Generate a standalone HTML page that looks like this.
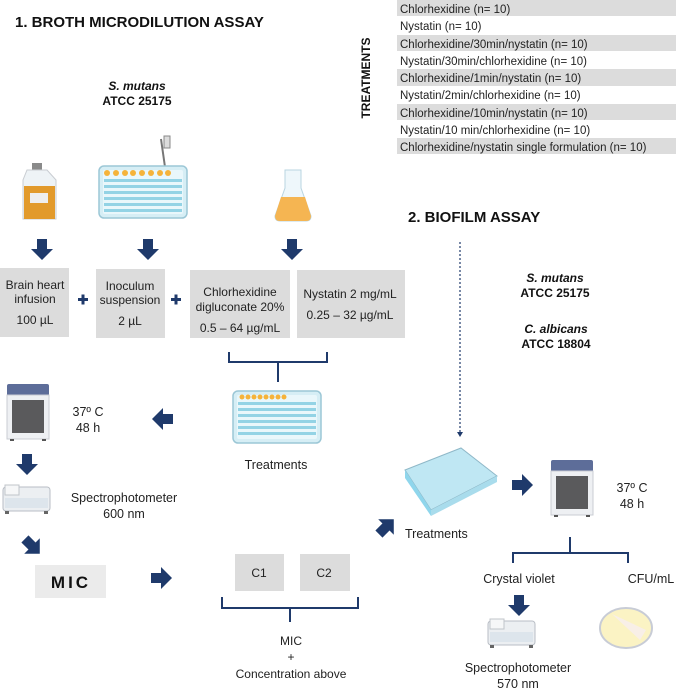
<!DOCTYPE html>
<html><head><meta charset="utf-8"><style>
html,body{margin:0;padding:0;background:#fff;}
svg{display:block;font-family:"Liberation Sans",Arial,sans-serif;}
</style></head><body>
<svg width="676" height="690" viewBox="0 0 676 690" xmlns="http://www.w3.org/2000/svg">
<defs>
<g id="ad"><path d="M-5,-10 H5 V0 H11 L0,11 L-11,0 H-5 Z" fill="#1f3a6b"/></g>
<g id="plate">
<rect x="0" y="0" width="88" height="52" rx="5" fill="#d6eef5" stroke="#9cc7d6" stroke-width="1.5"/>
<rect x="4" y="4" width="80" height="44" rx="2" fill="#e9f7fb"/>
</g>
<g id="incub">
<rect x="0" y="0" width="42" height="12" rx="2" fill="#5d6d99"/>
<rect x="0" y="11" width="42" height="44" fill="#eef0f3" stroke="#c9ccd3"/>
<rect x="5" y="16" width="32" height="33" fill="#5a5a5c"/>
<rect x="3" y="55" width="4" height="2" fill="#555"/><rect x="35" y="55" width="4" height="2" fill="#555"/>
</g>
<g id="spec">
<rect x="0" y="3" width="47" height="24" rx="3" fill="#eceff2" stroke="#b9bec5"/>
<rect x="2" y="1" width="14" height="10" fill="#f6f7f8" stroke="#c0c4ca"/>
<rect x="2" y="14" width="43" height="10" fill="#dde5ec"/>
<rect x="2" y="27" width="4" height="3" fill="#666"/><rect x="41" y="27" width="4" height="3" fill="#666"/>
</g>
</defs>

<text x="15" y="27" font-size="15" font-weight="bold" fill="#111">1. BROTH MICRODILUTION ASSAY</text>

<g font-size="11.5" fill="#222">
<rect x="397" y="0" width="279" height="16" fill="#dcdcdc"/>
<rect x="397" y="35" width="279" height="16" fill="#dcdcdc"/>
<rect x="397" y="69" width="279" height="17" fill="#dcdcdc"/>
<rect x="397" y="104" width="279" height="16" fill="#dcdcdc"/>
<rect x="397" y="138" width="279" height="16" fill="#dcdcdc"/>
<text x="400" y="13">Chlorhexidine (n= 10)</text>
<text x="400" y="30">Nystatin (n= 10)</text>
<text x="400" y="48">Chlorhexidine/30min/nystatin (n= 10)</text>
<text x="400" y="65">Nystatin/30min/chlorhexidine (n= 10)</text>
<text x="400" y="82">Chlorhexidine/1min/nystatin (n= 10)</text>
<text x="400" y="99">Nystatin/2min/chlorhexidine (n= 10)</text>
<text x="400" y="117">Chlorhexidine/10min/nystatin  (n= 10)</text>
<text x="400" y="134">Nystatin/10 min/chlorhexidine (n= 10)</text>
<text x="400" y="151">Chlorhexidine/nystatin single formulation (n= 10)</text>
</g>
<text transform="translate(370,78) rotate(-90)" text-anchor="middle" font-size="12" font-weight="bold" fill="#111">TREATMENTS</text>

<g text-anchor="middle" font-size="12" font-weight="bold" fill="#111">
<text x="137" y="90" font-style="italic">S. mutans</text>
<text x="137" y="105">ATCC 25175</text>
</g>

<rect x="32" y="163" width="10" height="7" fill="#8a8a8a"/>
<path d="M27,170 H47 L56,180 V219 H23 V180 Z" fill="#eef3f6" stroke="#c9cdd2"/>
<rect x="24" y="186" width="31" height="33" fill="#e29a2b"/>
<rect x="30" y="193" width="18" height="10" fill="#eeeeee"/>
<line x1="165" y1="167" x2="161" y2="139" stroke="#777" stroke-width="2"/>
<rect x="164" y="136" width="6" height="12" fill="#dcdcdc" stroke="#888"/>
<use href="#plate" x="99" y="166"/>
<g fill="#f5b33a"><circle cx="107" cy="173" r="3"/><circle cx="116" cy="173" r="3"/><circle cx="125" cy="173" r="3"/><circle cx="133" cy="173" r="3"/><circle cx="142" cy="173" r="3"/><circle cx="151" cy="173" r="3"/><circle cx="160" cy="173" r="3"/><circle cx="168" cy="173" r="3"/></g>
<g fill="#7ecbe0" opacity="0.8"><rect x="104" y="179" width="78" height="3"/><rect x="104" y="185" width="78" height="3"/><rect x="104" y="191" width="78" height="3"/><rect x="104" y="197" width="78" height="3"/><rect x="104" y="203" width="78" height="3"/><rect x="104" y="209" width="78" height="3"/></g>
<path d="M285,170 H301 V188 L311,216 Q311,221 306,221 H280 Q275,221 275,216 L285,188 Z" fill="#eef7fb" stroke="#b9d4e0"/>
<path d="M281,197 H305 L311,216 Q311,221 306,221 H280 Q275,221 275,216 Z" fill="#f5b552"/>

<use href="#ad" x="42" y="249"/>
<use href="#ad" x="148" y="249"/>
<use href="#ad" x="292" y="249"/>

<rect x="0" y="268" width="69" height="69" fill="#dcdcdc"/>
<rect x="96" y="269" width="69" height="69" fill="#dcdcdc"/>
<rect x="190" y="270" width="100" height="68" fill="#dcdcdc"/>
<rect x="297" y="270" width="108" height="68" fill="#dcdcdc"/>
<g font-size="12" fill="#222" text-anchor="middle">
<text x="35" y="289">Brain heart</text><text x="35" y="303">infusion</text><text x="35" y="324">100 µL</text>
<text x="130" y="290">Inoculum</text><text x="130" y="304">suspension</text><text x="130" y="325">2 µL</text>
<text x="240" y="296">Chlorhexidine</text><text x="240" y="311">digluconate 20%</text><text x="240" y="332">0.5 – 64 µg/mL</text>
<text x="350" y="298">Nystatin  2 mg/mL</text><text x="350" y="319">0.25 – 32 µg/mL</text>
</g>
<g fill="#1f3a6b"><rect x="78" y="298" width="10" height="3"/><rect x="81.5" y="294.5" width="3" height="10"/><rect x="171" y="298" width="10" height="3"/><rect x="174.5" y="294.5" width="3" height="10"/></g>

<g fill="none" stroke="#1f3a6b" stroke-width="2">
<path d="M229,352 V362 H327 V352 M278,362 V382"/>
<path d="M222,597 V608 H358 V597 M290,608 V622"/>
<path d="M513,563 V553 H628 V563 M570,553 V537"/>
</g>

<use href="#plate" x="233" y="391"/>
<g fill="#f5b33a"><circle cx="242" cy="397" r="2.5"/><circle cx="248" cy="397" r="2.5"/><circle cx="254" cy="397" r="2.5"/><circle cx="260" cy="397" r="2.5"/><circle cx="266" cy="397" r="2.5"/><circle cx="272" cy="397" r="2.5"/><circle cx="278" cy="397" r="2.5"/><circle cx="284" cy="397" r="2.5"/></g>
<g fill="#7ecbe0" opacity="0.8"><rect x="238" y="402" width="78" height="3"/><rect x="238" y="408" width="78" height="3"/><rect x="238" y="414" width="78" height="3"/><rect x="238" y="420" width="78" height="3"/><rect x="238" y="426" width="78" height="3"/><rect x="238" y="432" width="78" height="3"/></g>
<text x="276" y="469" font-size="12.5" text-anchor="middle" fill="#222">Treatments</text>

<use href="#ad" transform="translate(163,419) rotate(90)"/>
<use href="#incub" x="7" y="384"/>
<g font-size="12.5" fill="#222" text-anchor="middle"><text x="88" y="416">37º C</text><text x="88" y="432">48 h</text></g>
<use href="#ad" x="27" y="464"/>
<use href="#spec" x="3" y="484"/>
<g font-size="12.5" fill="#222" text-anchor="middle"><text x="124" y="502">Spectrophotometer</text><text x="124" y="518">600 nm</text></g>
<use href="#ad" transform="translate(32,546) rotate(-45)"/>
<rect x="35" y="565" width="71" height="33" fill="#ebebeb"/>
<text x="71" y="588" font-size="17" font-weight="bold" text-anchor="middle" fill="#111" letter-spacing="3">MIC</text>
<use href="#ad" transform="translate(161,578) rotate(-90)"/>
<rect x="235" y="554" width="49" height="37" fill="#dcdcdc"/>
<rect x="300" y="554" width="50" height="37" fill="#dcdcdc"/>
<g font-size="12" fill="#222" text-anchor="middle"><text x="259" y="577">C1</text><text x="324" y="577">C2</text>
<text x="291" y="645">MIC</text><text x="291" y="661">+</text><text x="291" y="678">Concentration above</text></g>

<text x="408" y="222" font-size="15" font-weight="bold" fill="#111">2. BIOFILM ASSAY</text>
<line x1="460" y1="242" x2="460" y2="432" stroke="#1f3a6b" stroke-width="1.2" stroke-dasharray="2,2"/>
<path d="M457,432 L463,432 L460,437 Z" fill="#1f3a6b"/>
<g text-anchor="middle" font-size="12" font-weight="bold" fill="#111">
<text x="555" y="282" font-style="italic">S. mutans</text><text x="555" y="297">ATCC 25175</text>
<text x="556" y="333" font-style="italic">C. albicans</text><text x="556" y="348">ATCC 18804</text>
</g>
<path d="M405,470 L461,448 L497,476 L431,510 Z" fill="#bfe7f3" stroke="#8fb8c8"/>
<path d="M405,470 L431,510 L431,516 L405,478 Z" fill="#8fd6ec"/>
<path d="M431,510 L497,476 L497,482 L431,516 Z" fill="#a9dcec"/>
<use href="#ad" transform="translate(386,527) rotate(-135)"/>
<text x="405" y="538" font-size="12.5" fill="#222">Treatments</text>
<use href="#ad" transform="translate(522,485) rotate(-90)"/>
<use href="#incub" x="551" y="460"/>
<g font-size="12.5" fill="#222" text-anchor="middle"><text x="632" y="492">37º C</text><text x="632" y="508">48 h</text></g>
<g font-size="12.5" fill="#222" text-anchor="middle"><text x="519" y="583">Crystal violet</text><text x="651" y="583">CFU/mL</text></g>
<use href="#ad" x="519" y="605"/>
<use href="#spec" x="488" y="618"/>
<g font-size="12.5" fill="#222" text-anchor="middle"><text x="518" y="672">Spectrophotometer</text><text x="518" y="688">570 nm</text></g>
<ellipse cx="626" cy="628" rx="26" ry="20" fill="#fbf3c4" stroke="#c8ccd6" stroke-width="2"/>
<path d="M612,614 L640,640 L646,630 Z" fill="#f7eef0" opacity="0.8"/>
</svg>
</body></html>
